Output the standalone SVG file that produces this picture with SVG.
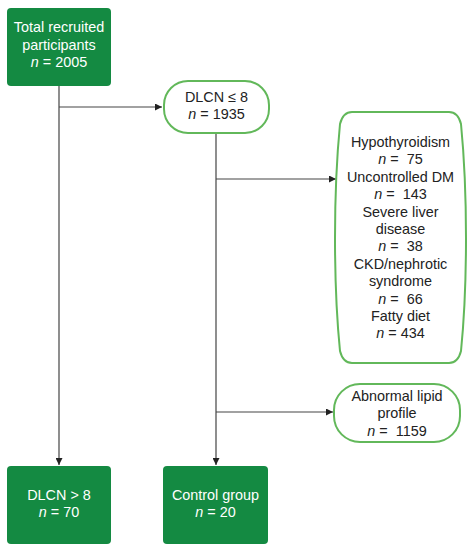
<svg xmlns="http://www.w3.org/2000/svg" width="472" height="550" viewBox="0 0 472 550">
<style>
.g{fill:#148a42;stroke:none}
.w{fill:#fff;stroke:#62b85a;stroke-width:2}
text{font-family:"Liberation Sans",Arial,sans-serif;font-size:14.4px;text-anchor:middle;white-space:pre}
.tw{fill:#fff}
.td{fill:#222}
.i{font-style:italic}
.c{stroke:#444;stroke-width:1.2;fill:none}
</style>
<defs>
<marker id="ah" viewBox="0 0 10 10" refX="10" refY="5" markerWidth="9" markerHeight="7" markerUnits="userSpaceOnUse" orient="auto">
<path d="M0,0 L10,5 L0,10 Z" fill="#222"/>
</marker>
</defs>
<g id="connectors">
<line class="c" x1="59" y1="86" x2="59" y2="465" marker-end="url(#ah)"/>
<line class="c" x1="59" y1="107" x2="162" y2="107" marker-end="url(#ah)"/>
<line class="c" x1="216" y1="133" x2="216" y2="465" marker-end="url(#ah)"/>
<line class="c" x1="216" y1="179" x2="336" y2="179" marker-end="url(#ah)"/>
<line class="c" x1="216" y1="412" x2="333" y2="412" marker-end="url(#ah)"/>
</g>
<g id="total">
<rect class="g" x="7" y="8" width="104" height="78" rx="4"/>
<text class="tw" x="59" y="32">Total recruited</text>
<text class="tw" x="59" y="49.5">participants</text>
<text class="tw" x="59" y="67"><tspan class="i">n</tspan> = 2005</text>
</g>
<g id="dlcn-le8">
<rect class="w" x="164" y="81" width="105" height="52" rx="24"/>
<text class="td" x="216.5" y="102">DLCN ≤ 8</text>
<text class="td" x="216.5" y="119"><tspan class="i">n</tspan> = 1935</text>
</g>
<g id="exclusions">
<path class="w" d="M352 112 L449 112 Q458 112 461 124 Q466 175 466 238 Q466 301 461 351 Q458 363 449 363 L352 363 Q343 363 340 351 Q335 301 335 238 Q335 175 340 124 Q343 112 352 112 Z"/>
<text class="td" x="400.5" y="147">Hypothyroidism</text>
<text class="td" x="400.5" y="164.4"><tspan class="i">n</tspan> =  75</text>
<text class="td" x="400.5" y="181.8">Uncontrolled DM</text>
<text class="td" x="400.5" y="199.2"><tspan class="i">n</tspan> =  143</text>
<text class="td" x="400.5" y="216.6">Severe liver</text>
<text class="td" x="400.5" y="234">disease</text>
<text class="td" x="400.5" y="251.4"><tspan class="i">n</tspan> =  38</text>
<text class="td" x="400.5" y="268.8">CKD/nephrotic</text>
<text class="td" x="400.5" y="286.2">syndrome</text>
<text class="td" x="400.5" y="303.6"><tspan class="i">n</tspan> =  66</text>
<text class="td" x="400.5" y="321">Fatty diet</text>
<text class="td" x="400.5" y="338.4"><tspan class="i">n</tspan> = 434</text>
</g>
<g id="abnormal">
<rect class="w" x="334" y="384" width="126" height="58" rx="26"/>
<text class="td" x="397" y="401">Abnormal lipid</text>
<text class="td" x="397" y="418">profile</text>
<text class="td" x="397" y="435.5"><tspan class="i">n</tspan> =  1159</text>
</g>
<g id="dlcn-gt8">
<rect class="g" x="7" y="466" width="104" height="78" rx="4"/>
<text class="tw" x="59" y="500">DLCN &gt; 8</text>
<text class="tw" x="59" y="517"><tspan class="i">n</tspan> = 70</text>
</g>
<g id="control">
<rect class="g" x="163" y="466" width="105" height="78" rx="4"/>
<text class="tw" x="215.5" y="500">Control group</text>
<text class="tw" x="215.5" y="517"><tspan class="i">n</tspan> = 20</text>
</g>
</svg>
